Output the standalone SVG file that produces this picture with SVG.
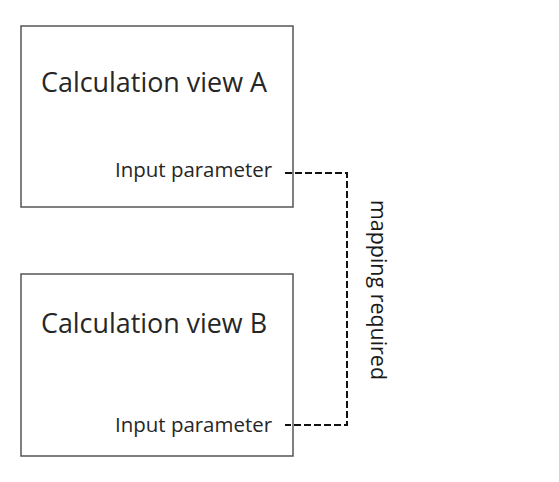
<svg xmlns="http://www.w3.org/2000/svg" width="559" height="482" viewBox="0 0 559 482">
<style>
.box{fill:#fff;stroke:#555;stroke-width:1.5}
.title{font-family:"Open Sans","Liberation Sans",sans-serif;font-size:26.5px;fill:#262626}
.param{font-family:"Open Sans","Liberation Sans",sans-serif;font-size:20px;fill:#262626}
.lbl{font-family:"Open Sans","Liberation Sans",sans-serif;font-size:21px;fill:#1a1a1a}
.dash{fill:none;stroke:#111;stroke-width:2;stroke-dasharray:7 3}
</style>
<rect width="559" height="482" fill="#fff"/>
<g id="viewA">
<rect class="box" x="21" y="26" width="272" height="181"/>
<text class="title" x="41" y="92" textLength="226" lengthAdjust="spacingAndGlyphs">Calculation view A</text>
<text class="param" x="115" y="177" textLength="157" lengthAdjust="spacingAndGlyphs">Input parameter</text>
</g>
<g id="viewB">
<rect class="box" x="21" y="274" width="272" height="182"/>
<text class="title" x="41" y="333" textLength="226" lengthAdjust="spacingAndGlyphs">Calculation view B</text>
<text class="param" x="115" y="432" textLength="157" lengthAdjust="spacingAndGlyphs">Input parameter</text>
</g>
<g id="connectors">
<path class="dash" d="M285 173 H347 V425 H285"/>
<text class="lbl" transform="translate(371,200) rotate(90)" x="0" y="0" textLength="180" lengthAdjust="spacingAndGlyphs">mapping required</text>
</g>
</svg>
